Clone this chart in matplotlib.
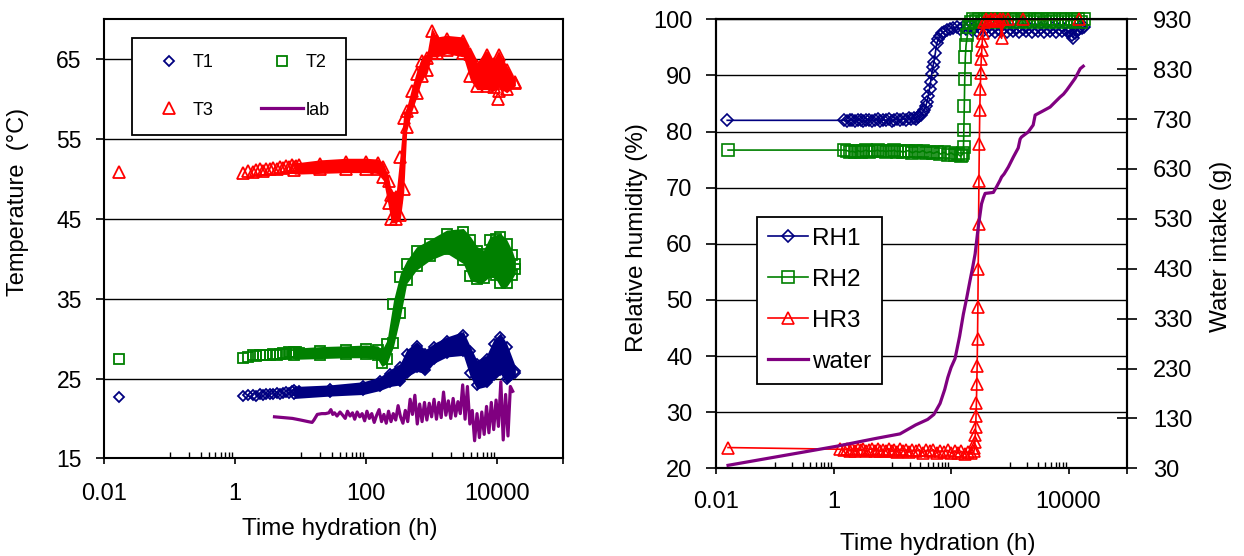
import numpy as np
import matplotlib
matplotlib.use('Agg')
import matplotlib.pyplot as plt
from matplotlib.ticker import FixedLocator, FixedFormatter, NullFormatter

plt.rcParams['font.family'] = ['Liberation Sans', 'DejaVu Sans']

NAVY = '#000080'
GREEN = '#008000'
RED = '#FF0000'
PURPLE = '#800080'

# ---------------- left panel: temperatures ----------------
# first reading (t ~ 0.017 h)
t_first = [0.017]
t1_first = [22.7]
t2_first = [27.5]
t3_first = [50.9]

# early hourly readings (markers still distinguishable)
t_early = [1.34, 1.6, 1.85, 2.1, 2.4, 2.7, 3.0, 3.4, 3.8, 4.3, 4.8, 5.4, 6.0, 6.7, 7.5, 8.4, 9.4]
t1_early = [22.8, 22.9, 22.9, 22.8, 23.0, 22.9, 23.1, 23.0, 23.1, 23.2, 23.1, 23.2, 23.3, 23.2, 23.4, 23.3, 23.4]
t2_early = [27.6, 27.7, 27.9, 27.8, 27.9, 28.0, 27.9, 28.0, 28.1, 28.0, 28.1, 28.2, 28.1, 28.3, 28.2, 28.3, 28.2]
t3_early = [50.8, 51.0, 50.9, 51.1, 51.2, 51.0, 51.3, 51.2, 51.4, 51.3, 51.5, 51.4, 51.6, 51.5, 51.7, 51.6, 51.8]

# dense readings: lower / upper envelope of the marker cloud
t1_band_t = [8, 28, 91, 163, 232, 333, 417, 590, 800, 1080, 1700, 3050, 3900, 4900, 6900, 8800, 11200, 14000, 19000]
t1_band_lo = [22.5, 22.8, 23.0, 23.5, 24.0, 24.2, 25.2, 25.9, 25.6, 26.9, 27.7, 27.9, 25.2, 23.7, 24.0, 24.9, 25.6, 24.4, 25.2]
t1_band_hi = [24.0, 24.2, 24.6, 25.2, 26.1, 26.9, 28.6, 29.6, 28.6, 29.4, 30.2, 30.9, 29.0, 27.3, 27.9, 29.8, 30.7, 29.4, 26.5]

t2_band_t = [8, 20, 50, 100, 150, 175, 209, 262, 333, 417, 590, 940, 1700, 3050, 3900, 5000, 6200, 7800, 9500, 11200, 14000, 17000, 19000]
t2_band_lo = [27.4, 27.5, 27.6, 27.6, 27.4, 26.5, 26.9, 29.0, 32.7, 36.9, 38.6, 39.8, 40.7, 39.4, 37.3, 37.0, 37.1, 37.8, 37.5, 36.5, 36.5, 37.5, 38.2]
t2_band_hi = [28.8, 29.0, 29.1, 29.2, 29.1, 28.6, 29.8, 34.8, 38.2, 39.8, 41.5, 42.4, 43.6, 43.8, 42.8, 41.5, 41.1, 42.8, 43.0, 43.2, 42.4, 41.0, 39.8]

t3_band_t = [8, 20, 50, 100, 150, 184, 220, 243, 288, 333, 375, 417, 500, 595, 710, 850, 1000, 1200, 1700, 3050, 3900, 4900, 6900, 8800, 10500, 14000, 19000]
t3_band_lo = [50.6, 50.7, 50.8, 50.8, 50.7, 49.8, 46.5, 44.5, 44.5, 45.0, 48.3, 56.0, 58.5, 60.3, 62.4, 63.2, 65.3, 65.3, 65.7, 65.3, 62.4, 61.2, 61.2, 61.0, 61.5, 60.8, 61.7]
t3_band_hi = [52.0, 52.4, 52.6, 52.6, 52.5, 52.0, 50.3, 48.5, 48.3, 53.3, 58.2, 59.0, 61.5, 63.6, 65.3, 65.7, 69.0, 67.8, 68.0, 67.8, 66.2, 64.6, 66.1, 64.9, 66.1, 64.2, 62.5]
t3_out_t = [10300, 10800]
t3_out_v = [60.0, 61.0]

lab_t = [4, 5.5, 7.5, 10, 13, 15, 16, 18, 21, 24, 27, 29, 31, 33, 36, 40, 44, 48, 52, 57,
         62, 67, 73, 80, 87, 95, 103, 112, 122, 133, 145, 158, 172, 187, 203, 220, 240, 260, 283, 308,
         335, 365, 397, 432, 470, 510, 555, 604, 657, 715, 778, 846, 920, 1000, 1090, 1185, 1290, 1400, 1520, 1650,
         1800, 1960, 2130, 2320, 2520, 2740, 2980, 3240, 3520, 3830, 4170, 4530, 4930, 5360, 5830, 6340, 6890, 7490, 8150, 8860,
         9630, 10470, 11390, 12380, 13460, 14640, 15920, 17300]
lab_v = [20.2, 20.1, 20.0, 19.8, 19.6, 19.5, 19.8, 20.5, 20.6, 20.6, 20.7, 21.1, 20.5, 20.7, 20.3, 20.8, 20.4, 20.0, 20.9, 20.3,
         20.7, 19.9, 20.8, 20.2, 20.6, 19.7, 20.9, 20.0, 20.6, 19.5, 20.4, 21.1, 19.6, 20.5, 19.4, 20.9, 19.6, 20.6, 19.8, 21.6,
         20.2, 19.4, 21.0, 19.6, 22.4, 20.5, 22.9, 19.3, 21.8, 19.6, 22.0, 19.8, 21.9, 20.2, 22.4, 19.9, 22.0, 20.1, 23.3, 20.4,
         22.2, 20.0, 22.5, 20.3, 22.1, 20.6, 24.2, 19.9, 24.0, 19.3, 21.0, 17.2, 20.6, 17.6, 20.8, 18.0, 21.5, 18.2, 22.0, 18.6,
         22.3, 19.0, 24.6, 17.3, 23.0, 17.8, 24.0, 23.4]

# ---------------- right panel: relative humidity + water ----------------
rh1_t = [0.0155, 1.5, 1.7, 1.9, 2.1, 2.35, 2.6, 2.9, 3.2, 3.6, 4.0, 4.5, 5.0, 5.6, 6.2, 7.0, 7.8, 8.7, 9.7, 10.8,
         12, 13.5, 15, 17, 19, 21, 23, 25, 27, 29, 31, 33, 35, 37, 39, 41, 43, 45, 47, 49,
         51, 54, 57, 61, 65, 70, 76, 84, 95,
         110, 125, 140, 160, 180, 200, 225, 250, 280, 315, 350, 400, 450, 500, 570, 640, 720, 810, 910, 1000,
         1150, 1300, 1450, 1650, 1850, 2100, 2350, 2650, 3000, 3400, 3800, 4300, 4800, 5400, 6100, 6800, 7700, 8600, 9700, 10500,
         11300, 12000, 12800, 13700, 14700, 15800, 17000, 18500]
rh1_v = [82.0, 82.0, 81.9, 82.0, 82.1, 81.9, 82.0, 82.1, 81.8, 82.0, 82.1, 81.9, 82.0, 82.2, 81.9, 82.1, 82.0, 82.2, 81.9, 82.1,
         82.2, 82.0, 82.3, 82.1, 82.4, 82.2, 82.5, 82.3, 82.6, 82.7, 83.0, 83.4, 83.9, 84.5, 85.3, 86.4, 87.6, 88.9, 90.3, 91.5,
         92.4, 94.0, 95.7, 96.5, 97.1, 97.5, 97.8, 98.1, 98.3,
         98.5, 98.6, 98.3, 98.7, 98.2, 98.6, 98.1, 98.5, 98.0, 98.4, 97.9, 98.4, 97.9, 98.3, 97.8, 98.3, 97.9, 98.4, 97.8, 98.3,
         97.9, 98.4, 97.8, 98.3, 97.9, 98.4, 97.8, 98.3, 97.9, 98.4, 97.8, 98.3, 97.9, 98.4, 97.8, 98.2, 97.9, 98.3, 97.7, 98.0,
         97.2, 96.7, 97.5, 98.0, 98.3, 98.6, 98.4, 98.7]

rh2_t = [0.016, 1.5, 1.7, 1.9, 2.1, 2.35, 2.6, 2.9, 3.2, 3.6, 4.0, 4.5, 5.0, 5.6, 6.2, 7.0, 7.8, 8.7, 9.7, 10.8,
         12, 13.5, 15, 17, 19, 22, 25, 29, 33, 38, 44, 50, 58, 66, 76, 88, 100, 115, 130, 145,
         155, 160, 163, 165, 168, 171, 175, 180, 190, 200,
         215, 240, 270, 300, 340, 380, 430, 480, 540, 610, 690, 780, 880, 1000, 1130, 1280, 1450, 1650, 1850, 2100,
         2400, 2700, 3050, 3450, 3900, 4400, 5000, 5600, 6300, 7100, 8000, 9000, 10100, 11400, 12800, 14400, 16200, 18500]
rh2_v = [76.7, 76.7, 76.6, 76.4, 76.5, 76.3, 76.6, 76.4, 76.5, 76.7, 76.4, 76.6, 76.5, 76.7, 76.5, 76.6, 76.4, 76.6, 76.5, 76.7,
         76.4, 76.6, 76.3, 76.5, 76.6, 76.2, 76.5, 76.3, 76.6, 76.2, 76.4, 76.1, 76.4, 76.0, 76.3, 75.9, 76.2, 75.8, 76.0, 75.6,
         75.9, 76.2, 77.3, 80.2, 84.5, 89.3, 93.3, 95.4, 97.2, 98.6,
         99.6, 100.0, 99.7, 100.0, 99.6, 100.0, 99.8, 100.0, 99.6, 100.0, 99.7, 100.0, 99.6, 100.0, 99.8, 100.0, 99.6, 100.0, 99.7, 100.0,
         99.6, 100.0, 99.8, 100.0, 99.6, 100.0, 99.7, 100.0, 99.6, 100.0, 99.8, 100.0, 99.6, 100.0, 99.7, 100.0, 99.6, 100.0]

hr3_t = [0.016, 1.3, 1.5, 1.7, 1.9, 2.1, 2.35, 2.6, 2.9, 3.2, 3.6, 4.0, 4.5, 5.0, 5.6, 6.2, 7.0, 7.8, 8.7, 9.7,
         10.8, 12, 13.5, 15, 17, 19, 22, 25, 29, 33, 38, 44, 50, 58, 66, 76, 88, 100, 115, 130,
         150, 170, 195, 220, 245,
         250, 254, 258, 262, 266, 270, 274, 278, 282, 286, 290, 294, 298, 303, 308, 314, 320, 327, 334, 341,
         350, 370, 400, 430, 470, 510, 560, 620, 680, 725, 780, 945, 1700, 14800]
hr3_v = [23.7, 23.4, 23.2, 23.5, 23.1, 23.4, 23.0, 23.5, 23.2, 23.4, 23.0, 23.3, 23.5, 23.1, 23.4, 23.0, 23.3, 23.1, 23.5, 23.0,
         23.3, 22.9, 23.4, 23.1, 23.3, 22.9, 23.2, 23.0, 23.3, 22.8, 23.2, 23.0, 23.3, 22.8, 23.1, 22.9, 23.2, 22.7, 23.1, 22.7,
         23.0, 22.6, 22.9, 22.7, 23.0,
         23.6, 24.6, 25.9, 27.4, 29.3, 31.6, 35.0, 38.2, 43.0, 48.7, 55.6, 63.6, 71.2, 77.8, 83.8, 87.6, 90.5, 93.0, 94.6, 96.2,
         97.5, 99.6, 100.0, 99.7, 100.0, 99.8, 100.0, 99.7, 100.0, 96.6, 100.0, 100.0, 100.0, 100.0]

water_t = [0.016, 1.1, 5.3, 13.5, 25, 40, 51, 65, 78, 88, 100, 117, 140, 162, 185, 210, 235, 257, 290, 330,
           355, 380, 450, 525, 600, 680, 725, 800, 945, 1150, 1390, 1500, 1580, 2050, 2500, 2700, 3500, 4840, 6000, 7160,
           8200, 9300, 11000, 13000, 15800, 17800]
water_v = [36, 74, 90, 99, 117, 128, 138, 160, 188, 212, 232, 250, 295, 339, 372, 406, 435, 460, 513, 560,
           572, 581, 582, 583, 595, 607, 614, 620, 634, 654, 672, 690, 694, 704, 718, 738, 745, 754, 765, 774,
           780, 788, 800, 812, 831, 836]

x_major = [0.01, 1, 100, 10000, 100000]
x_major_labels = ['0.01', '1', '100', '10000', '']
x_minor = [m * d for d in (0.1, 10, 1000) for m in range(1, 10)]


def style_log_x(ax, pad):
    ax.set_xscale('log')
    ax.set_xlim(0.01, 1e5)
    ax.xaxis.set_major_locator(FixedLocator(x_major))
    ax.xaxis.set_major_formatter(FixedFormatter(x_major_labels))
    ax.xaxis.set_minor_locator(FixedLocator(x_minor))
    ax.xaxis.set_minor_formatter(NullFormatter())
    ax.tick_params(axis='x', which='major', direction='out', length=4.5, width=1.2,
                   labelsize=17, pad=pad)
    ax.tick_params(axis='x', which='minor', direction='in', length=4, width=1.0)
    for s in ax.spines.values():
        s.set_linewidth(1.5)
        s.set_color('black')


fig = plt.figure(figsize=(12.44, 5.56), dpi=100)
ax1 = fig.add_axes([0.0836, 0.1757, 0.3687, 0.7894])
ax2 = fig.add_axes([0.5756, 0.1577, 0.3306, 0.8076])

# ---- left ----
edge = 0.5
band_specs = [
    (t1_band_t, t1_band_lo, t1_band_hi, NAVY, 'D', 5.0),
    (t2_band_t, t2_band_lo, t2_band_hi, GREEN, 's', 7.0),
    (t3_band_t, t3_band_lo, t3_band_hi, RED, '^', 8.0),
]
for bt, lo, hi, col, mk, ms in band_specs:
    ax1.fill_between(bt, lo, hi, color=col, lw=0, zorder=2)
    ax1.plot(bt, np.array(lo) + edge, ls='none', marker=mk, ms=ms, mfc='none', mec=col, mew=1.3, zorder=2)
    ax1.plot(bt, np.array(hi) - edge, ls='none', marker=mk, ms=ms, mfc='none', mec=col, mew=1.3, zorder=2)

h_t1, = ax1.plot(t_first + t_early, t1_first + t1_early, ls='none', marker='D', ms=5.0,
                 mfc='none', mec=NAVY, mew=1.3, zorder=3, label='T1')
h_t2, = ax1.plot(t_first + t_early, t2_first + t2_early, ls='none', marker='s', ms=7.0,
                 mfc='none', mec=GREEN, mew=1.3, zorder=3, label='T2')
h_t3, = ax1.plot(t_first + t_early, t3_first + t3_early, ls='none', marker='^', ms=8.0,
                 mfc='none', mec=RED, mew=1.3, zorder=3, label='T3')
ax1.plot(t3_out_t, t3_out_v, ls='none', marker='^', ms=8.0, mfc='none', mec=RED, mew=1.3, zorder=3)
h_lab, = ax1.plot(lab_t, lab_v, color=PURPLE, lw=2.3, zorder=4, label='lab')

style_log_x(ax1, pad=13)
ax1.set_ylim(15, 70)
ax1.set_yticks([15, 25, 35, 45, 55, 65])
ax1.tick_params(axis='y', direction='out', length=5.5, width=1.2, labelsize=16.5, pad=10.5)
ax1.yaxis.grid(True, color='black', lw=1.0)
ax1.set_axisbelow(True)
ax1.set_ylabel('Temperature  (°C)', fontsize=17)
ax1.yaxis.set_label_coords(-0.164, 0.585)
ax1.set_xlabel('Time hydration (h)', fontsize=17.5)
ax1.xaxis.set_label_coords(0.514, -0.136)

leg1 = ax1.legend([h_t1, h_t3, h_t2, h_lab], ['T1', 'T3', 'T2', 'lab'], ncol=2,
                  loc='upper left', bbox_to_anchor=(0.06, 0.958), borderaxespad=0,
                  fontsize=13, labelspacing=1.7, columnspacing=2.6, handlelength=2.35,
                  handletextpad=0.15, borderpad=0.9, fancybox=False, framealpha=1,
                  edgecolor='black')
leg1.get_frame().set_linewidth(1.3)

# ---- right ----
ax2.plot(rh1_t, rh1_v, color=NAVY, lw=1.2, marker='D', ms=6.0, mfc='none', mec=NAVY,
         mew=1.2, label='RH1', zorder=3, clip_on=False)
ax2.plot(rh2_t, rh2_v, color=GREEN, lw=1.2, marker='s', ms=8.0, mfc='none', mec=GREEN,
         mew=1.2, label='RH2', zorder=3, clip_on=False)
ax2.plot(hr3_t, hr3_v, color=RED, lw=1.2, marker='^', ms=9.0, mfc='none', mec=RED,
         mew=1.2, label='HR3', zorder=3, clip_on=False)

style_log_x(ax2, pad=11.5)
ax2.set_ylim(20, 100)
ax2.set_yticks(range(20, 101, 10))
ax2.tick_params(axis='y', direction='out', length=7, width=1.2, labelsize=17, pad=10)
ax2.yaxis.grid(True, color='black', lw=1.0)
ax2.set_axisbelow(True)
ax2.set_ylabel('Relative humidity (%)', fontsize=17.5)
ax2.yaxis.set_label_coords(-0.165, 0.515)
ax2.set_xlabel('Time hydration (h)', fontsize=17.5)
ax2.xaxis.set_label_coords(0.539, -0.144)

ax2r = ax2.twinx()
ax2r.plot(water_t, water_v, color=PURPLE, lw=2.3, label='water', zorder=4)
ax2r.set_ylim(30, 930)
ax2r.set_yticks(range(30, 931, 100))
ax2r.tick_params(axis='y', direction='inout', length=15, width=1.2, labelsize=17, pad=11)
ax2r.set_ylabel('Water intake (g)', fontsize=17.5)
ax2r.yaxis.set_label_coords(1.201, 0.495)
for s in ax2r.spines.values():
    s.set_linewidth(1.5)

handles = ax2.get_legend_handles_labels()[0] + ax2r.get_legend_handles_labels()[0]
labels = ['RH1', 'RH2', 'HR3', 'water']
leg2 = ax2r.legend(handles, labels, loc='upper left', bbox_to_anchor=(0.099, 0.56),
                   borderaxespad=0, fontsize=17.5, labelspacing=0.78, handlelength=1.65,
                   handletextpad=0.16, borderpad=0.45, fancybox=False, framealpha=1,
                   edgecolor='black')
leg2.get_frame().set_linewidth(1.3)

fig.savefig('out.png', dpi=100)
